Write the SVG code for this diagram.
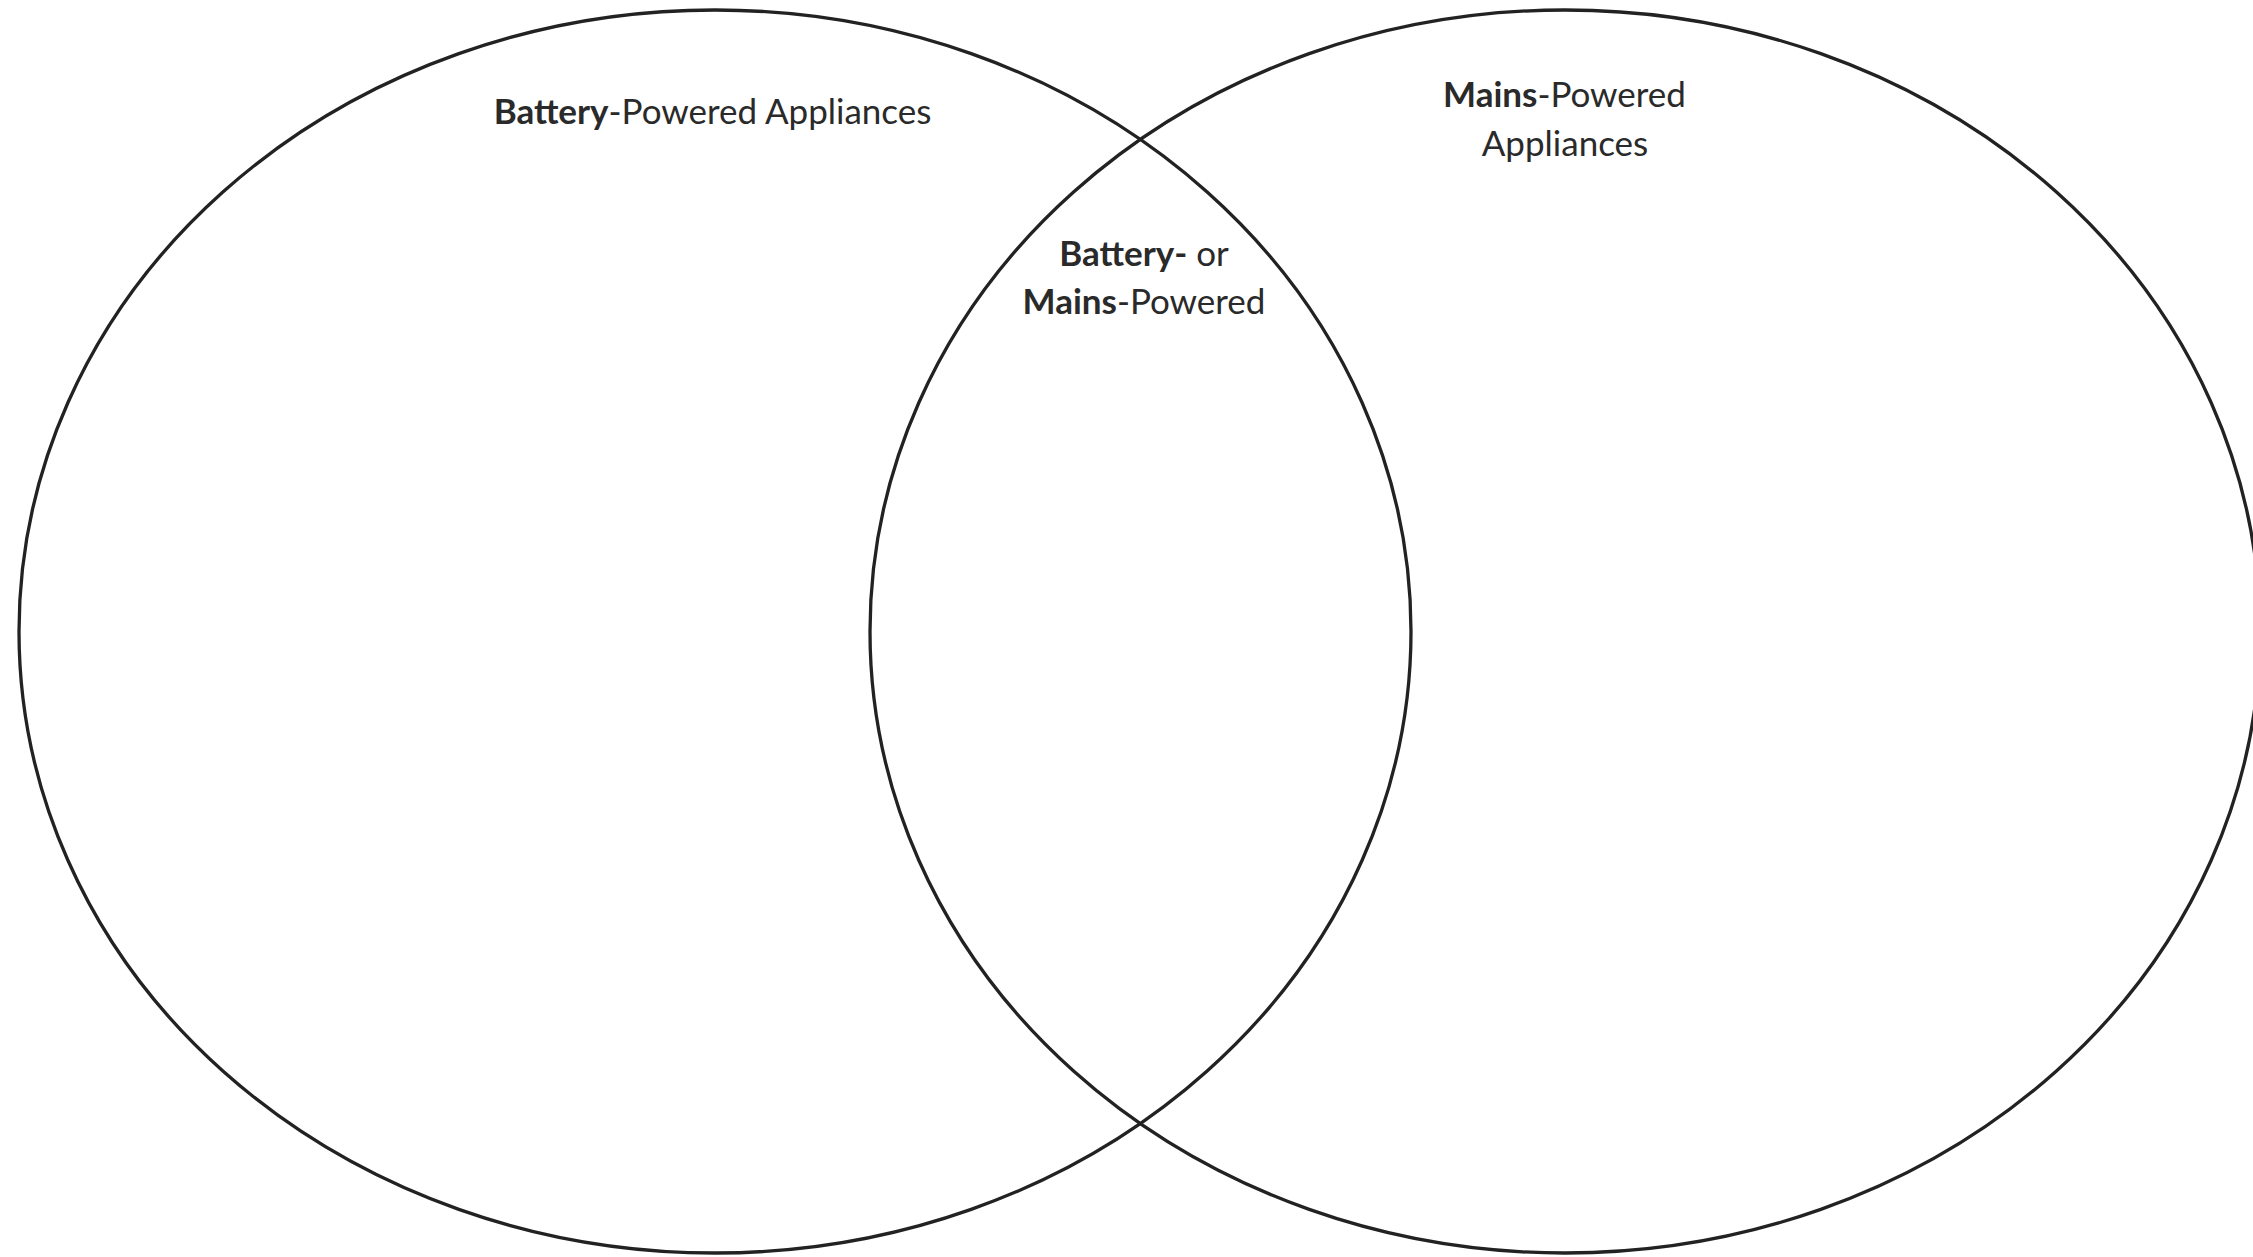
<svg xmlns="http://www.w3.org/2000/svg" width="2253" height="1257" viewBox="0 0 2253 1257">
  <style>
    .set { fill: none; stroke: #222222; stroke-width: 3.3; }
    .lbl { font-family: "Lato", "Open Sans", sans-serif; font-size: 35px; fill: #2a2a2a; text-anchor: middle; }
    .b { font-weight: bold; }
  </style>
  <rect width="2253" height="1257" fill="#ffffff"/>
  <g id="battery-set">
    <ellipse class="set" cx="715" cy="631.5" rx="696" ry="621.5"/>
    <text class="lbl" x="712.5" y="124"><tspan class="b">Battery</tspan>-Powered Appliances</text>
  </g>
  <g id="mains-set">
    <ellipse class="set" cx="1565" cy="631.5" rx="695" ry="621.5"/>
    <text class="lbl" x="1564.5" y="107"><tspan class="b">Mains</tspan>-Powered</text>
    <text class="lbl" x="1565" y="156">Appliances</text>
  </g>
  <g id="overlap">
    <text class="lbl" x="1144" y="266"><tspan class="b">Battery-</tspan> or</text>
    <text class="lbl" x="1144" y="314"><tspan class="b">Mains</tspan>-Powered</text>
  </g>
</svg>
